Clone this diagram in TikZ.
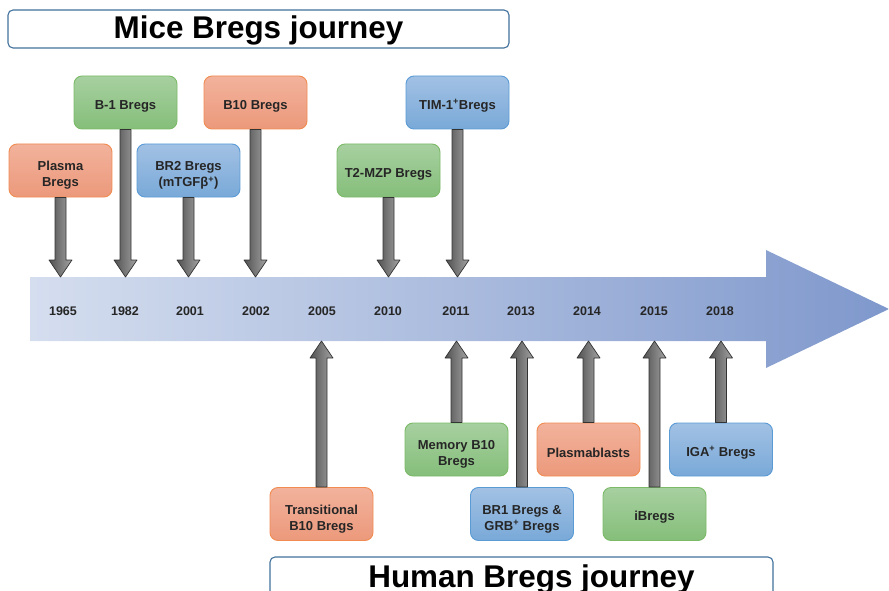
\documentclass[tikz,border=0pt]{standalone}
\usepackage{fontspec}
\setmainfont{Liberation Sans}
\usetikzlibrary{calc}
\definecolor{ortop}{HTML}{F2B29C}
\definecolor{orbot}{HTML}{EC997B}
\definecolor{orline}{HTML}{F08C52}
\definecolor{grtop}{HTML}{A7D0A0}
\definecolor{grbot}{HTML}{85BE7A}
\definecolor{grline}{HTML}{7CBA68}
\definecolor{bltop}{HTML}{A2C1E4}
\definecolor{blbot}{HTML}{79A9D8}
\definecolor{blline}{HTML}{5B9BD5}
\definecolor{tlleft}{HTML}{D5DEEF}
\definecolor{tlright}{HTML}{7F98CC}
\definecolor{ttline}{HTML}{41719C}
\definecolor{txt}{HTML}{262626}
\tikzset{
	box/.style={rounded corners=8pt, minimum width=103pt, minimum height=53pt, inner sep=2pt,
		align=center, line width=0.9pt, text=txt, font=\fontsize{13}{16}\selectfont\bfseries,
		execute at begin node={\rule{0pt}{16pt}}},
	twoline/.style={text height=35pt},
	orbox/.style={box, draw=orline, top color=ortop, bottom color=orbot},
	grbox/.style={box, draw=grline, top color=grtop, bottom color=grbot},
	blbox/.style={box, draw=blline, top color=bltop, bottom color=blbot},
	titlebox/.style={draw=ttline, fill=white, line width=1.1pt, rounded corners=5pt,
		text height=24pt, text depth=5pt, font=\fontsize{31.4}{36}\selectfont\bfseries},
	year/.style={text=txt, font=\fontsize{12.5}{14}\selectfont\bfseries},
	fat/.style={draw=black!80, line width=0.7pt, left color=black!68, right color=black!36,
		to path={let \p1=(\tikztostart), \p2=(\tikztotarget), \n1={(\y2>\y1)?17:-17} in
			({\x1-5.5pt},\y1) -- ({\x1-5.5pt},{\y2-(\n1)}) -- ({\x1-11.5pt},{\y2-(\n1)}) -- (\x1,\y2)
			-- ({\x1+11.5pt},{\y2-(\n1)}) -- ({\x1+5.5pt},{\y2-(\n1)}) -- ({\x1+5.5pt},\y1) -- cycle}}
}
\begin{document}
\begin{tikzpicture}[x=1pt, y=-1pt, line join=round]
	\useasboundingbox (0,0) rectangle (889,591);
	\clip (0,0) rectangle (889,591);
	% time line
	\shade[left color=tlleft, right color=tlright] (30,277) -- (766,277) -- (766,250) -- (889,309)
		-- (766,368) -- (766,341) -- (30,341) -- cycle;
	\coordinate (btop) at (0,277);
	\coordinate (bbot) at (0,341);
	\foreach \yr/\xx in {1965/63, 1982/125, 2001/190, 2002/256, 2005/322, 2010/388,
		2011/456, 2013/521, 2014/587, 2015/654, 2018/720}
		\node[year] (y\yr) at (\xx,311) {\yr};
	% titles
	\node[titlebox, minimum width=501pt, minimum height=38pt] (mice) at (258.5,29) {Mice Bregs journey};
	\node[titlebox, minimum width=503pt, minimum height=42pt] (human) at (521.5,578)
		{\hspace*{20pt}Human Bregs journey};
	% mice
	\node[orbox, twoline] (plasma) at (60.5,170.5) {Plasma\\Bregs};
	\node[grbox] (bone) at (125.5,102.5) {B-1 Bregs};
	\node[blbox, twoline] (brtwo) at (188.5,170.5) {BR2 Bregs\\(mTGFβ\textsuperscript{+})};
	\node[orbox] (bten) at (255.5,102.5) {B10 Bregs};
	\node[grbox] (tmzp) at (388.5,170.5) {T2-MZP Bregs};
	\node[blbox] (tim) at (457.5,102.5) {TIM-1\textsuperscript{+}Bregs};
	\foreach \b in {plasma, bone, brtwo, bten, tmzp, tim}
		\draw[fat] (\b.south) to (\b.south |- btop);
	% human
	\node[orbox, twoline] (trans) at (321.5,514) {Transitional\\B10 Bregs};
	\node[grbox, twoline] (memory) at (456.5,449.5) {Memory B10\\Bregs};
	\node[blbox, twoline] (brone) at (522,514) {BR1 Bregs \&\\GRB\textsuperscript{+} Bregs};
	\node[orbox] (plblast) at (588.5,449.5) {Plasmablasts};
	\node[grbox] (ibreg) at (654.5,514) {iBregs};
	\node[blbox] (iga) at (721,449.5) {IGA\textsuperscript{+} Bregs};
	\foreach \b in {trans, memory, brone, plblast, ibreg, iga}
		\draw[fat] (\b.north) to (\b.north |- bbot);
\end{tikzpicture}
\end{document}
